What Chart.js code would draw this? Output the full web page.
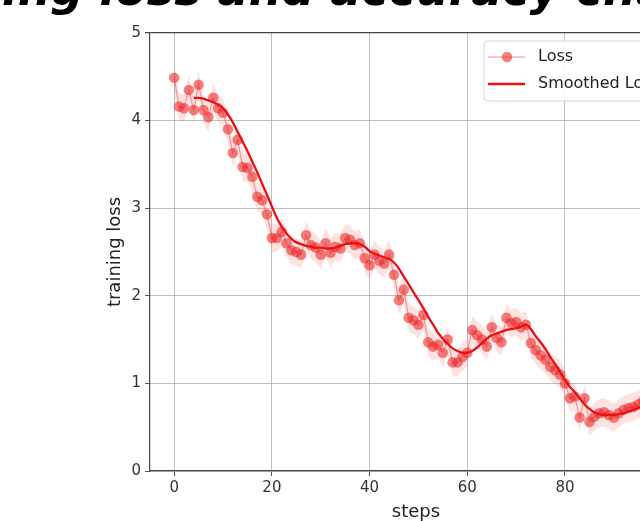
<!DOCTYPE html>
<html>
<head>
<meta charset="utf-8">
<script src="https://cdn.jsdelivr.net/npm/chart.js@4/dist/chart.umd.min.js"></script>
<style>
html, body { margin: 0; padding: 0; background: #fff; overflow: hidden; }
#wrap { position: absolute; left: 0; top: 0; width: 720px; height: 521px; }
</style>
</head>
<body>
<div id="wrap"><canvas id="chart" width="720" height="521"></canvas></div>
<script>
const titleText = 'Training loss and accuracy chart';

const steps = [
  0, 1, 2, 3, 4, 5, 6, 7, 8, 9, 10, 11, 12, 13, 14, 15, 16, 17, 18, 19,
  20, 21, 22, 23, 24, 25, 26, 27, 28, 29, 30, 31, 32, 33, 34, 35, 36, 37, 38, 39,
  40, 41, 42, 43, 44, 45, 46, 47, 48, 49, 50, 51, 52, 53, 54, 55, 56, 57, 58, 59,
  60, 61, 62, 63, 64, 65, 66, 67, 68, 69, 70, 71, 72, 73, 74, 75, 76, 77, 78, 79,
  80, 81, 82, 83, 84, 85, 86, 87, 88, 89, 90, 91, 92, 93, 94, 95, 96, 97, 98, 99
];

const loss = [
  4.49, 4.16, 4.14, 4.35, 4.12, 4.41, 4.12, 4.04, 4.26, 4.14,
  4.09, 3.90, 3.63, 3.78, 3.47, 3.46, 3.36, 3.13, 3.09, 2.93,
  2.66, 2.66, 2.73, 2.60, 2.52, 2.50, 2.47, 2.69, 2.58, 2.55,
  2.47, 2.60, 2.49, 2.56, 2.54, 2.66, 2.64, 2.58, 2.60, 2.43,
  2.35, 2.47, 2.40, 2.37, 2.47, 2.24, 1.95, 2.07, 1.75, 1.72,
  1.67, 1.78, 1.47, 1.42, 1.44, 1.35, 1.50, 1.24, 1.24, 1.30,
  1.35, 1.61, 1.55, 1.50, 1.42, 1.64, 1.52, 1.47, 1.75, 1.69,
  1.70, 1.64, 1.67, 1.46, 1.38, 1.32, 1.27, 1.19, 1.15, 1.10,
  1.00, 0.83, 0.85, 0.61, 0.83, 0.56, 0.62, 0.66, 0.67, 0.64,
  0.61, 0.66, 0.70, 0.72, 0.73, 0.76, 0.80, 0.78, 0.84, 0.86
];

const smoothedLoss = [
  null, null, null, null, 4.26, 4.26, 4.25, 4.23, 4.21, 4.18,
  4.14, 4.07, 3.98, 3.87, 3.76, 3.65, 3.53, 3.41, 3.28, 3.15,
  3.02, 2.89, 2.79, 2.71, 2.65, 2.61, 2.59, 2.57, 2.56, 2.55,
  2.55, 2.54, 2.54, 2.55, 2.57, 2.59, 2.60, 2.60, 2.59, 2.56,
  2.51, 2.48, 2.46, 2.44, 2.42, 2.38, 2.31, 2.22, 2.13, 2.04,
  1.95, 1.86, 1.76, 1.67, 1.58, 1.51, 1.45, 1.40, 1.37, 1.35,
  1.35, 1.37, 1.41, 1.46, 1.51, 1.55, 1.57, 1.59, 1.61, 1.62,
  1.63, 1.65, 1.67, 1.62, 1.54, 1.47, 1.39, 1.30, 1.22, 1.13,
  1.04, 0.96, 0.90, 0.83, 0.76, 0.71, 0.67, 0.65, 0.64, 0.64,
  0.64, 0.65, 0.66, 0.68, 0.70, 0.72, 0.75, 0.77, 0.80, null
];

// half height of the shaded band around the raw loss
const lossSpread = 0.16;

const xTicks = [0, 20, 40, 60, 80, 100];
const yTicks = [0, 1, 2, 3, 4, 5];

const lossUpper = loss.map(v => v + lossSpread);
const lossLower = loss.map(v => v - lossSpread);

const axisColor = '#444';
const gridColor = '#b8b8b8';
const fontFamily = 'DejaVu Sans';

// matplotlib style figure title, cut off by the crop
const titlePlugin = {
  id: 'figTitle',
  afterDraw(chart) {
    const ctx = chart.ctx;
    ctx.save();
    ctx.font = 'italic bold 46px "' + fontFamily + '"';
    ctx.fillStyle = '#000';
    ctx.textBaseline = 'alphabetic';
    ctx.textAlign = 'left';
    const lead = ctx.measureText('Train').width;
    ctx.fillText(titleText, 2 - lead, 5);
    ctx.restore();
  }
};

// legend drawn inside the axes, upper right, like plt.legend()
const legendPlugin = {
  id: 'mplLegend',
  afterDraw(chart) {
    const ctx = chart.ctx;
    const area = chart.chartArea;
    const items = chart.data.datasets
      .filter(d => d.legendRank !== undefined)
      .sort((a, b) => a.legendRank - b.legendRank);
    const x0 = area.right - 198;
    const y0 = area.top + 8;
    const rowH = 27;
    const w = 190, h = 14 + rowH * items.length - 8;

    ctx.save();
    ctx.beginPath();
    ctx.roundRect(x0, y0, w, h, 4);
    ctx.fillStyle = 'rgba(255,255,255,0.85)';
    ctx.fill();
    ctx.strokeStyle = '#d6d6d6';
    ctx.lineWidth = 1;
    ctx.stroke();

    items.forEach((d, i) => {
      const cy = y0 + 16 + i * rowH;
      ctx.beginPath();
      ctx.moveTo(x0 + 4, cy);
      ctx.lineTo(x0 + 41, cy);
      ctx.strokeStyle = d.legendLine || d.borderColor;
      ctx.lineWidth = d.borderWidth;
      ctx.stroke();
      if (d.pointRadius > 0) {
        ctx.beginPath();
        ctx.arc(x0 + 23, cy, d.pointRadius, 0, Math.PI * 2);
        ctx.fillStyle = d.pointBackgroundColor;
        ctx.fill();
      }
      ctx.font = '16px "' + fontFamily + '"';
      ctx.fillStyle = '#222';
      ctx.textBaseline = 'middle';
      ctx.fillText(d.label, x0 + 54, cy);
    });
    ctx.restore();
  }
};

new Chart(document.getElementById('chart'), {
  type: 'line',
  data: {
    labels: steps,
    datasets: [
      {
        label: 'Smoothed Loss',
        legendRank: 1,
        data: smoothedLoss,
        borderColor: '#e81010',
        borderWidth: 2.3,
        pointRadius: 0,
        cubicInterpolationMode: 'monotone',
        fill: false
      },
      {
        label: 'Loss',
        legendRank: 0,
        data: loss,
        borderColor: 'rgba(240,50,50,0.45)',
        legendLine: 'rgba(240,50,50,0.55)',
        borderWidth: 1.2,
        pointRadius: 5.3,
        pointBorderWidth: 0,
        pointBackgroundColor: 'rgba(236,40,40,0.58)',
        tension: 0,
        fill: false
      },
      {
        label: 'band upper',
        data: lossUpper,
        borderWidth: 0,
        pointRadius: 0,
        backgroundColor: 'rgba(250,90,90,0.18)',
        fill: '+1'
      },
      {
        label: 'band lower',
        data: lossLower,
        borderWidth: 0,
        pointRadius: 0,
        fill: false
      }
    ]
  },
  options: {
    responsive: false,
    animation: false,
    events: [],
    layout: { padding: { left: 100, top: 33, right: 38, bottom: 0 } },
    plugins: {
      legend: { display: false },
      title: { display: false },
      tooltip: { enabled: false }
    },
    scales: {
      x: {
        type: 'linear',
        min: -4.95,
        max: 103.95,
        afterBuildTicks: s => { s.ticks = xTicks.map(v => ({ value: v })); },
        afterFit: s => { s.height = 50; },
        border: { display: true, color: axisColor, width: 1.2 },
        grid: { color: gridColor, lineWidth: 0.9, tickColor: axisColor, tickLength: 5 },
        ticks: { color: '#333', font: { family: fontFamily, size: 15 }, padding: 3, maxRotation: 0, autoSkip: false },
        title: { display: true, text: 'steps', color: '#222', font: { family: fontFamily, size: 18 }, padding: { top: 0, bottom: -2 } }
      },
      y: {
        type: 'linear',
        min: 0,
        max: 5,
        afterBuildTicks: s => { s.ticks = yTicks.map(v => ({ value: v })); },
        afterFit: s => { s.width = 50; },
        border: { display: true, color: axisColor, width: 1.2 },
        grid: {
          color: c => (c.tick && c.tick.value === 5 ? axisColor : gridColor),
          lineWidth: c => (c.tick && c.tick.value === 5 ? 1.2 : 0.9),
          tickColor: axisColor,
          tickLength: 5
        },
        ticks: { color: '#333', font: { family: fontFamily, size: 15 }, padding: 4 },
        title: { display: true, text: 'training loss', color: '#222', font: { family: fontFamily, size: 18 }, padding: { top: 5, bottom: 0 } }
      }
    }
  },
  plugins: [titlePlugin, legendPlugin]
});
</script>
</body>
</html>
